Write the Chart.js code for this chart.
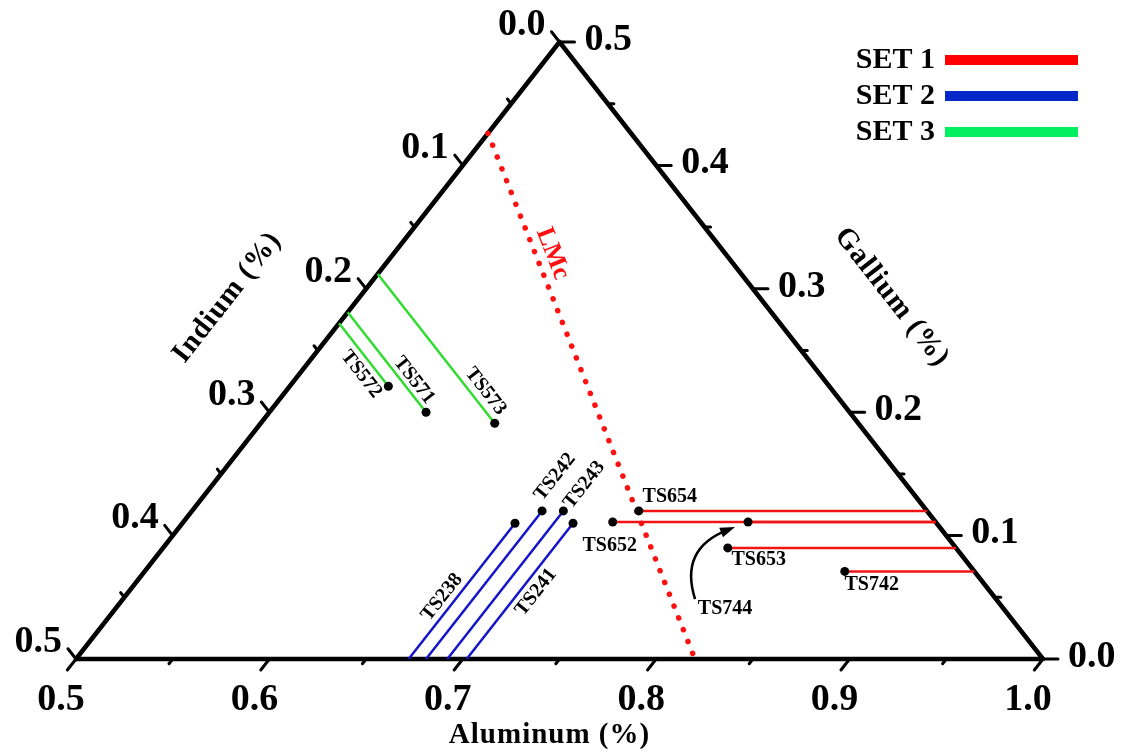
<!DOCTYPE html>
<html>
<head>
<meta charset="utf-8">
<title>Al-Ga-In ternary</title>
<script src="https://cdn.jsdelivr.net/npm/chart.js@4.4.1/dist/chart.umd.min.js"></script>
<style>
  html, body { margin: 0; padding: 0; background: #fff; }
  #wrap { width: 1135px; height: 754px; }
</style>
</head>
<body>
<div id="wrap"><canvas id="ternary"></canvas></div>
<script>
// compositions as fractions, In = 1 - Al - Ga
const set1Names = ['TS654', 'TS652', 'TS744', 'TS653', 'TS742'];
const set1Al = [0.731, 0.722, 0.792, 0.792, 0.862];
const set1Ga = [0.120, 0.111, 0.111, 0.090, 0.071];

const set2Names = ['TS238', 'TS242', 'TS243', 'TS241'];
const set2Al = [0.672, 0.681, 0.692, 0.702];
const set2Ga = [0.110, 0.120, 0.120, 0.110];

const set3Names = ['TS572', 'TS571', 'TS573'];
const set3Al = [0.551, 0.581, 0.621];
const set3Ga = [0.221, 0.200, 0.191];

// LMc boundary, ends on the In edge and on the Al axis
const lmcAl = [0.5, 0.82];
const lmcGa = [0.426, 0.0];

// axis ticks
const alTicks = [0.5, 0.6, 0.7, 0.8, 0.9, 1.0];
const alMinor = [0.55, 0.65, 0.75, 0.85, 0.95];
const gaTicks = [0.0, 0.1, 0.2, 0.3, 0.4, 0.5];
const inTicks = [0.0, 0.1, 0.2, 0.3, 0.4, 0.5];
const fracMinor = [0.05, 0.15, 0.25, 0.35, 0.45];

const setLabels = ['SET 1', 'SET 2', 'SET 3'];
const lineColors = ['#f01414', '#1414c8', '#30dc30'];
const legendColors = ['#ff0000', '#0528c8', '#00f060'];

// label placement around each sample point: [dx, dy, rotation deg]
const labelPlace = {
  TS654: [31, -14, 0], TS652: [-3, 24, 0], TS744: [-23, 87, 0],
  TS653: [31, 12, 0], TS742: [27, 13, 0],
  TS238: [-73, 74, -51.8], TS242: [13, -34, -51.8], TS243: [21, -26, -51.8], TS241: [-37, 69, -51.8],
  TS572: [-27, -12, 52], TS571: [-12, -32, 52], TS573: [-9, -32, 52]
};

const FONT = '"Liberation Serif", "DejaVu Serif", serif';

// ternary -> cartesian (Al axis along x, Ga upward)
function toXY(al, ga) { return { x: al + ga / 2, y: ga }; }

function pix(chart, al, ga) {
  const p = toXY(al, ga);
  return { x: chart.scales.x.getPixelForValue(p.x), y: chart.scales.y.getPixelForValue(p.y) };
}

function lineDs(label, data, color, extra) {
  return Object.assign({
    label: label, data: data, showLine: true, borderColor: color,
    borderWidth: 2.5, pointRadius: 0, clip: false
  }, extra || {});
}

const samplePoints = [];
const datasets = [];
set1Names.forEach((n, i) => samplePoints.push(toXY(set1Al[i], set1Ga[i])));
set2Names.forEach((n, i) => samplePoints.push(toXY(set2Al[i], set2Ga[i])));
set3Names.forEach((n, i) => samplePoints.push(toXY(set3Al[i], set3Ga[i])));

datasets.push({
  label: 'samples', data: samplePoints, showLine: false,
  pointRadius: 4.5, pointBackgroundColor: '#000', pointBorderWidth: 0, clip: false
});
// set 1: constant Ga, runs to the Ga edge
set1Names.forEach((n, i) => datasets.push(lineDs(n,
  [toXY(set1Al[i], set1Ga[i]), toXY(1 - set1Ga[i], set1Ga[i])], lineColors[0])));
// set 2: constant Al, runs to the Al axis
set2Names.forEach((n, i) => datasets.push(lineDs(n,
  [toXY(set2Al[i], set2Ga[i]), toXY(set2Al[i], 0)], lineColors[1])));
// set 3: constant In, runs to the In edge
set3Names.forEach((n, i) => datasets.push(lineDs(n,
  [toXY(set3Al[i], set3Ga[i]), toXY(0.5, set3Al[i] + set3Ga[i] - 0.5)], lineColors[2])));
datasets.push(lineDs('LMc', lmcAl.map((a, i) => toXY(a, lmcGa[i])), '#ff1010', {
  borderWidth: 5.5, borderDash: [0.1, 12.6], borderCapStyle: 'round'
}));
datasets.push(lineDs('frame', [toXY(0.5, 0), toXY(1, 0), toXY(0.5, 0.5), toXY(0.5, 0)], '#000', {
  borderWidth: 4.5, borderJoinStyle: 'round', borderCapStyle: 'round'
}));

function text(ctx, str, x, y, font, rot, color) {
  ctx.save();
  ctx.translate(x, y);
  if (rot) ctx.rotate(rot * Math.PI / 180);
  ctx.font = font;
  ctx.fillStyle = color || '#000';
  ctx.textAlign = 'center';
  ctx.textBaseline = 'middle';
  ctx.fillText(str, 0, 0);
  ctx.restore();
}

const ternaryAxes = {
  id: 'ternaryAxes',
  afterDatasetsDraw(chart) {
    const ctx = chart.ctx;
    const P = (al, ga) => pix(chart, al, ga);
    const bl = P(0.5, 0), br = P(1, 0), top = P(0.5, 0.5);
    const unit = (a, b) => { const dx = b.x - a.x, dy = b.y - a.y, l = Math.hypot(dx, dy); return { x: dx / l, y: dy / l }; };
    const dBottom = unit(top, bl);
    const dRight = unit(bl, br);
    const dLeft = unit(br, top);

    ctx.save();
    ctx.strokeStyle = '#000';
    ctx.lineWidth = 3;
    ctx.lineCap = 'round';
    const tick = (p, d, len) => {
      ctx.beginPath(); ctx.moveTo(p.x, p.y); ctx.lineTo(p.x + d.x * len, p.y + d.y * len); ctx.stroke();
    };
    alMinor.forEach(v => tick(P(v, 0), dBottom, 6));
    alTicks.forEach(v => tick(P(v, 0), dBottom, 14));
    fracMinor.forEach(v => { tick(P(1 - v, v), dRight, 6); tick(P(0.5, 0.5 - v), dLeft, 6); });
    gaTicks.forEach(v => tick(P(1 - v, v), dRight, 15));
    inTicks.forEach(v => tick(P(0.5, 0.5 - v), dLeft, 13));
    ctx.restore();

    const numFont = 'bold 38px ' + FONT;
    alTicks.forEach(v => { const p = P(v, 0); text(ctx, v.toFixed(1), p.x - 15, p.y + 41, numFont); });
    ctx.save();
    ctx.font = numFont; ctx.fillStyle = '#000'; ctx.textBaseline = 'middle';
    ctx.textAlign = 'left';
    gaTicks.forEach(v => { const p = P(1 - v, v); ctx.fillText(v.toFixed(1), p.x + 25, p.y - 2); });
    ctx.textAlign = 'right';
    inTicks.forEach(v => { const p = P(0.5, 0.5 - v); ctx.fillText(v.toFixed(1), p.x - 14, p.y - 17); });
    ctx.restore();

    // axis titles
    const titleFont = 'bold 29px ' + FONT;
    ctx.save();
    ctx.letterSpacing = '1px';
    text(ctx, 'Aluminum (%)', (bl.x + br.x) / 2 - 10, bl.y + 77, titleFont);
    const midL = { x: (bl.x + top.x) / 2, y: (bl.y + top.y) / 2 };
    const midR = { x: (br.x + top.x) / 2, y: (br.y + top.y) / 2 };
    const nL = { x: dLeft.y, y: -dLeft.x };
    const angL = Math.atan2(top.y - bl.y, top.x - bl.x) * 180 / Math.PI;
    const upL = unit(top, bl);
    text(ctx, 'Indium (%)', midL.x - Math.abs(nL.x) * 104 + upL.x * 14, midL.y - Math.abs(nL.y) * 104 + upL.y * 14, titleFont, angL);
    const dTR = unit(top, br);
    const angR = Math.atan2(dTR.y, dTR.x) * 180 / Math.PI;
    text(ctx, 'Gallium (%)', midR.x + Math.abs(dTR.y) * 104 + dTR.x * 14, midR.y - Math.abs(dTR.x) * 104 + dTR.y * 14, titleFont, angR);
    ctx.restore();

    // LMc label, sitting on the dotted line
    const l0 = P(lmcAl[0], lmcGa[0]), l1 = P(lmcAl[1], lmcGa[1]);
    const dl = unit(l0, l1);
    const L = Math.hypot(l1.x - l0.x, l1.y - l0.y) * 0.24;
    text(ctx, 'LMc', l0.x + dl.x * L + dl.y * 16, l0.y + dl.y * L - dl.x * 16,
      'bold 26px ' + FONT, Math.atan2(dl.y, dl.x) * 180 / Math.PI, '#ff1010');

    // sample labels
    const lab = (names, al, ga) => names.forEach((n, i) => {
      const p = P(al[i], ga[i]); const o = labelPlace[n];
      text(ctx, n, p.x + o[0], p.y + o[1], 'bold 20px ' + FONT, o[2]);
    });
    lab(set1Names, set1Al, set1Ga);
    lab(set2Names, set2Al, set2Ga);
    lab(set3Names, set3Al, set3Ga);

    // curved pointer from the TS744 label to its point
    const k = set1Names.indexOf('TS744');
    const q = P(set1Al[k], set1Ga[k]);
    const S = { x: q.x - 53, y: q.y + 77 }, C = { x: q.x - 69, y: q.y + 27 }, E = { x: q.x - 13, y: q.y + 5 };
    const da = unit(C, E);
    ctx.save();
    ctx.strokeStyle = '#000'; ctx.fillStyle = '#000'; ctx.lineWidth = 2.5;
    ctx.beginPath(); ctx.moveTo(S.x, S.y);
    ctx.quadraticCurveTo(C.x, C.y, E.x - da.x * 8, E.y - da.y * 8); ctx.stroke();
    ctx.beginPath();
    ctx.moveTo(E.x, E.y);
    ctx.lineTo(E.x - da.x * 15 - da.y * 5, E.y - da.y * 15 + da.x * 5);
    ctx.lineTo(E.x - da.x * 15 + da.y * 5, E.y - da.y * 15 - da.x * 5);
    ctx.closePath(); ctx.fill();
    ctx.restore();

    // legend
    ctx.save();
    ctx.font = 'bold 30px ' + FONT;
    ctx.textAlign = 'right'; ctx.textBaseline = 'middle'; ctx.fillStyle = '#000';
    setLabels.forEach((s, i) => {
      const y = 60 + i * 36;
      ctx.fillText(s, 935, y);
      ctx.fillStyle = legendColors[i];
      ctx.fillRect(945, y - 5, 133, 10);
      ctx.fillStyle = '#000';
    });
    ctx.restore();
  }
};

new Chart(document.getElementById('ternary'), {
  type: 'scatter',
  data: { datasets: datasets },
  options: {
    responsive: true,
    maintainAspectRatio: false,
    animation: false,
    events: [],
    layout: { padding: { left: 76, right: 92, top: 42, bottom: 95 } },
    scales: {
      x: { type: 'linear', min: 0.5, max: 1.0, display: false },
      y: { type: 'linear', min: 0, max: 0.5, display: false }
    },
    plugins: { legend: { display: false }, tooltip: { enabled: false } }
  },
  plugins: [ternaryAxes]
});
</script>
</body>
</html>
